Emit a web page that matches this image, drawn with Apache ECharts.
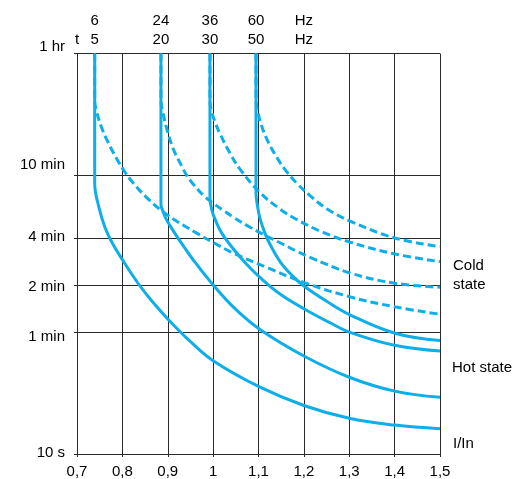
<!DOCTYPE html>
<html><head><meta charset="utf-8">
<script src="https://cdn.jsdelivr.net/npm/echarts@6/dist/echarts.min.js"></script>
<style>html,body{margin:0;padding:0;background:#fff}#c{width:516px;height:479px}</style>
</head><body><div id="c"></div>
<script>
// ---- Data (x = I/In, y = trip time in seconds) ----
const yTickValues = [10, 60, 120, 240, 600, 3600];
const yTickLabels = ['10 s', '1 min', '2 min', '4 min', '10 min', '1 hr'];
const freq60Hz = ['6', '24', '36', '60'];
const freq50Hz = ['5', '20', '30', '50'];
const freqX = [0.739, 0.885, 0.993, 1.0945];
const hzX = 1.2;

const g1Hot = [[0.739,3600],[0.739,532],[0.7485,374],[0.7617,279],[0.7771,224],[0.8,174],[0.8344,123],[0.8609,98],[0.9,72.8],[0.949,52.5],[1.0,39.4],[1.1,27.0],[1.2,20.4],[1.3,16.9],[1.4,15.3],[1.5,14.5]];
const g1Cold = [[0.739,3600],[0.739,1795],[0.7434,1527],[0.7544,1208],[0.769,969],[0.7875,767],[0.8058,629],[0.8234,539],[0.8536,433],[0.8977,338],[0.9667,254],[1.0,224],[1.0438,192],[1.1187,155],[1.2,124.5],[1.3,101],[1.4,87],[1.5,78]];
const g2Hot = [[0.885,3600],[0.885,391],[0.8895,353],[0.8961,318],[0.905,287],[0.9197,246],[0.9343,213],[0.9563,173],[1.0,120],[1.0482,84.6],[1.1033,62.3],[1.2,42.2],[1.3,30.9],[1.4,25.2],[1.5,23.0]];
const g2Cold = [[0.885,3600],[0.885,1787],[0.8889,1538],[0.8977,1196],[0.9122,885],[0.9307,689],[0.9418,600],[0.9563,527],[0.9783,448],[0.9969,405],[1.0224,359],[1.0445,325],[1.074,288],[1.1106,252],[1.1474,223],[1.1842,197],[1.2135,180],[1.3017,143],[1.4008,123],[1.5,116]];
const g3Hot = [[0.993,3600],[0.993,431],[0.9975,358],[1.0063,305],[1.0196,255],[1.0438,205],[1.0702,167],[1.1033,134],[1.1474,105],[1.2,84.6],[1.2576,68.8],[1.3,60],[1.4,49.4],[1.5,45.4]];
const g3Cold = [[0.993,3600],[0.993,1787],[0.9969,1527],[1.0041,1319],[1.0152,1106],[1.0372,831],[1.0592,658],[1.1033,466],[1.1474,366],[1.1842,314],[1.2355,265],[1.3017,225],[1.4008,189],[1.5,169]];
const g4Hot = [[1.0945,3600],[1.0945,458],[1.0978,382],[1.1033,319],[1.1143,256],[1.1253,218],[1.1474,169],[1.1738,138],[1.2,118],[1.251,94],[1.3017,77.3],[1.4008,59],[1.5,53]];
const g4Cold = [[1.0945,3600],[1.0945,1787],[1.0989,1527],[1.1033,1339],[1.1181,1028],[1.1401,784],[1.1621,634],[1.1842,535],[1.2135,446],[1.2503,368],[1.3017,307],[1.4008,239],[1.5,211]];

const BLUE = '#0eaee9';
const FONT = 'Liberation Sans, Arial, sans-serif';
const GRID = '#2a2a2a';

function line(data, dashed) {
  return {
    type: 'line', data: data, showSymbol: false, smooth: 0.4,
    lineStyle: { color: BLUE, width: 3, type: dashed ? [8, 4] : 'solid', cap: 'butt' },
    silent: true, z: dashed ? 3 : 4
  };
}

const labelStyle = { fontSize: 15, fontFamily: FONT, color: '#000' };
const chart = echarts.init(document.getElementById('c'), null, { renderer: 'canvas' });
chart.setOption({
  animation: false,
  backgroundColor: '#fff',
  textStyle: { fontFamily: FONT },
  grid: { left: 77, right: 76, top: 53.5, bottom: 24 },
  xAxis: [{
    type: 'value', min: 0.7, max: 1.5, interval: 0.1,
    name: 'I/In', nameLocation: 'end', nameGap: 13,
    nameTextStyle: { color: '#000', fontSize: 15, fontFamily: FONT, align: 'left', verticalAlign: 'bottom', padding: [0, 0, 3, 0] },
    axisLine: { show: true, lineStyle: { color: GRID, width: 1 } },
    axisTick: { show: true, length: 3, lineStyle: { color: GRID } },
    splitLine: { show: true, lineStyle: { color: GRID, width: 1 } },
    axisLabel: { color: '#000', fontSize: 15, fontFamily: FONT, margin: 10,
      formatter: v => String(Math.round(v * 10) / 10).replace('.', ',') }
  }, {
    type: 'value', min: 0.7, max: 1.5, position: 'top',
    axisLine: { show: false }, axisTick: { show: false }, splitLine: { show: false },
    axisLabel: {
      show: true, color: '#000', fontSize: 15, fontFamily: FONT, lineHeight: 19, margin: 4,
      customValues: freqX.concat([hzX]),
      formatter: v => {
        for (let i = 0; i < freqX.length; i++) if (Math.abs(v - freqX[i]) < 1e-6) return freq60Hz[i] + '\n' + freq50Hz[i];
        if (Math.abs(v - hzX) < 1e-6) return 'Hz\nHz';
        return '';
      }
    }
  }],
  yAxis: {
    type: 'log', logBase: 10, min: 10, max: 3600,
    name: 't', nameLocation: 'end', nameGap: 6,
    nameTextStyle: { color: '#000', fontSize: 15, fontFamily: FONT, align: 'center' },
    axisLine: { show: true, lineStyle: { color: GRID, width: 1 } },
    axisTick: { show: true, length: 3, customValues: yTickValues, lineStyle: { color: GRID } },
    splitLine: { show: true, lineStyle: { color: GRID, width: 1 } },
    axisLabel: {
      color: '#000', fontSize: 15, fontFamily: FONT, margin: 12, customValues: yTickValues,
      verticalAlign: 'middle',
      rich: {
        up2: Object.assign({ padding: [0, 0, 22, 0] }, labelStyle),
        up1: Object.assign({ padding: [0, 0, 14, 0] }, labelStyle),
        mid: Object.assign({ padding: [0, 0, 2, 0] }, labelStyle),
        dn1: Object.assign({ padding: [4, 0, 0, 0] }, labelStyle),
        dn2: Object.assign({ padding: [10, 0, 0, 0] }, labelStyle)
      },
      formatter: v => {
        const i = yTickValues.findIndex(t => Math.abs(t - v) < 1e-6 * t);
        if (i < 0) return '';
        const s = v === 600 ? 'up2' : v === 3600 ? 'up1' : v === 60 ? 'dn2' : v === 120 ? 'dn1' : 'mid';
        return '{' + s + '|' + yTickLabels[i] + '}';
      }
    }
  },
  graphic: [
    { type: 'text', left: 453, top: 256, style: { text: 'Cold\nstate', fill: '#000', font: '15px ' + FONT, lineHeight: 19 } },
    { type: 'text', left: 452, top: 360, style: { text: 'Hot state', fill: '#000', font: '15px ' + FONT } }
  ],
  series: [
    line(g1Cold, true), line(g2Cold, true), line(g3Cold, true), line(g4Cold, true),
    line(g1Hot, false), line(g2Hot, false), line(g3Hot, false), line(g4Hot, false)
  ]
});
</script>
</body></html>
